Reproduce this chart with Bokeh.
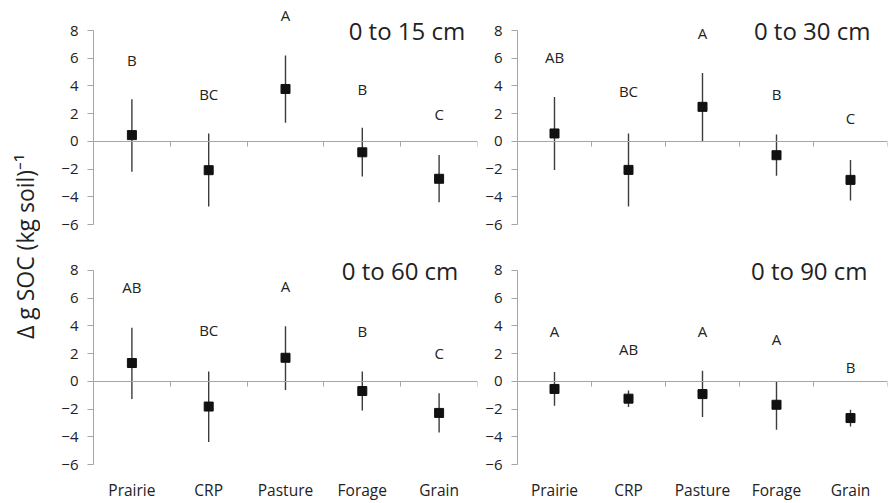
import math
from bokeh.plotting import figure
from bokeh.layouts import row, column
from bokeh.models import (Range1d, LinearAxis, FixedTicker,
                          CustomJSTickFormatter, Label, ColumnDataSource)
from bokeh.core.properties import value
from bokeh.embed import file_html
from bokeh.resources import INLINE

# ---------------- data ----------------
categories = ["Prairie", "CRP", "Pasture", "Forage", "Grain"]
depth_titles = ["0 to 15 cm", "0 to 30 cm", "0 to 60 cm", "0 to 90 cm"]
y_ticks = [-6, -4, -2, 0, 2, 4, 6, 8]

mean_15 = [0.45, -2.08, 3.78, -0.79, -2.70]
low_15 = [-2.20, -4.70, 1.34, -2.54, -4.40]
high_15 = [3.04, 0.57, 6.20, 0.98, -0.98]
letters_15 = ["B", "BC", "A", "B", "C"]
letter_y_15 = [5.9, 3.4, 9.1, 3.8, 2.0]

mean_30 = [0.57, -2.06, 2.49, -1.00, -2.78]
low_30 = [-2.06, -4.70, 0.00, -2.49, -4.26]
high_30 = [3.20, 0.57, 4.93, 0.50, -1.34]
letters_30 = ["AB", "BC", "A", "B", "C"]
letter_y_30 = [6.1, 3.6, 7.8, 3.45, 1.7]

mean_60 = [1.32, -1.82, 1.70, -0.70, -2.28]
low_60 = [-1.27, -4.38, -0.62, -2.10, -3.69]
high_60 = [3.86, 0.70, 3.98, 0.70, -0.86]
letters_60 = ["AB", "BC", "A", "B", "C"]
letter_y_60 = [6.8, 3.7, 6.9, 3.65, 2.05]

mean_90 = [-0.55, -1.25, -0.92, -1.69, -2.65]
low_90 = [-1.76, -1.86, -2.58, -3.49, -3.25]
high_90 = [0.67, -0.67, 0.77, 0.00, -2.05]
letters_90 = ["A", "AB", "A", "A", "B"]
letter_y_90 = [3.65, 2.35, 3.65, 3.05, 1.0]

FONT = "Open Sans"
AXIS_GRAY = "#a6a6a6"
TEXT = "#222222"

N = len(categories)
cat_pos = [i + 0.5 for i in range(N)]       # category centres
cat_edges = list(range(N + 1))               # category boundaries


def panel(title, title_x, means, lows, highs, letters, letter_y, width, height,
          mb_left, mb_right, mb_top, mb_bottom, y_lo, y_hi, show_cats):
    p = figure(width=width, height=height, output_backend="svg",
               toolbar_location=None,
               x_range=Range1d(0, N), y_range=Range1d(y_lo, y_hi),
               x_axis_location="below" if show_cats else None,
               min_border_left=mb_left, min_border_right=mb_right,
               min_border_top=mb_top, min_border_bottom=mb_bottom)
    p.outline_line_color = None
    p.xgrid.visible = False
    p.ygrid.visible = False
    p.background_fill_color = "white"
    p.border_fill_color = "white"

    # y axis
    ya = p.yaxis[0]
    ya.ticker = FixedTicker(ticks=y_ticks)
    ya.bounds = (y_ticks[0], y_ticks[-1])
    ya.axis_line_color = AXIS_GRAY
    ya.major_tick_line_color = AXIS_GRAY
    ya.major_tick_in = 0
    ya.major_tick_out = 6
    ya.minor_tick_line_color = None
    ya.major_label_standoff = 9
    ya.major_label_text_font = FONT
    ya.major_label_text_font_size = "15px"
    ya.major_label_text_color = TEXT

    # category labels at bottom
    if show_cats:
        xa = p.xaxis[0]
        xa.ticker = FixedTicker(ticks=cat_pos)
        xa.formatter = CustomJSTickFormatter(
            args=dict(labels=categories),
            code="return labels[Math.floor(tick)]")
        xa.axis_line_color = None
        xa.major_tick_line_color = None
        xa.minor_tick_line_color = None
        xa.major_tick_out = 0
        xa.major_tick_in = 0
        xa.major_label_standoff = 11
        xa.major_label_text_font = FONT
        xa.major_label_text_font_size = "15.5px"
        xa.major_label_text_color = TEXT

    # zero line with tick marks between categories
    za = LinearAxis(fixed_location=0, ticker=FixedTicker(ticks=cat_edges),
                    bounds=(0, N),
                    formatter=CustomJSTickFormatter(code="return ''"))
    za.axis_line_color = AXIS_GRAY
    za.major_tick_line_color = AXIS_GRAY
    za.major_tick_in = 0
    za.major_tick_out = 5
    za.minor_tick_line_color = None
    p.add_layout(za, "below")

    src = ColumnDataSource(dict(x=cat_pos, mean=means, low=lows,
                                high=highs, letter=letters, ly=letter_y))
    p.segment(x0="x", y0="low", x1="x", y1="high", source=src,
              line_color="#3c3c3c", line_width=1.4)
    p.scatter(x="x", y="mean", source=src, marker="square", size=9,
              fill_color="#111111", line_color="#111111")
    p.text(x="x", y="ly", text="letter", source=src,
           text_align="center", text_baseline="middle",
           text_font=value(FONT), text_font_size="15px", text_color=TEXT)

    p.add_layout(Label(x=title_x, y=8.0, text=title,
                       text_align="right", text_baseline="middle",
                       text_font=FONT, text_font_size="24px",
                       text_color=TEXT))
    return p


# top row: figure y 0..240, frame 0..238 ; value 8 -> 30px, -6 -> 224px
TOP_LO, TOP_HI = -7.01, 10.165
# bottom row: figure y 240..503, frame 248..468 ; value 8 -> 270px, -6 -> 465px
BOT_LO, BOT_HI = -6.215, 9.579

p1 = panel(depth_titles[0], 4.84, mean_15, low_15, high_15, letters_15,
           letter_y_15, 438, 240, 53, 1, 0, 2, TOP_LO, TOP_HI, False)
p2 = panel(depth_titles[1], 4.77, mean_30, low_30, high_30, letters_30,
           letter_y_30, 411, 240, 39, 2, 0, 2, TOP_LO, TOP_HI, False)
p3 = panel(depth_titles[2], 4.75, mean_60, low_60, high_60, letters_60,
           letter_y_60, 438, 263, 53, 1, 8, 35, BOT_LO, BOT_HI, True)
p4 = panel(depth_titles[3], 4.73, mean_90, low_90, high_90, letters_90,
           letter_y_90, 411, 263, 39, 2, 8, 35, BOT_LO, BOT_HI, True)

ylab = figure(width=40, height=503, output_backend="svg", toolbar_location=None,
              x_range=Range1d(0, 40), y_range=Range1d(503, 0),
              x_axis_location=None, y_axis_location=None, min_border=0)
ylab.outline_line_color = None
ylab.xgrid.visible = False
ylab.ygrid.visible = False
ylab.text(x=[24], y=[246], text=["\u0394 g SOC (kg soil)\u207b\u00b9"],
          angle=math.pi / 2, text_align="center", text_baseline="middle",
          text_font=value(FONT), text_font_size="23px", text_color=TEXT)

layout = row(ylab, column(p1, p3), column(p2, p4))

open("out.html", "w").write(file_html(layout, INLINE))
